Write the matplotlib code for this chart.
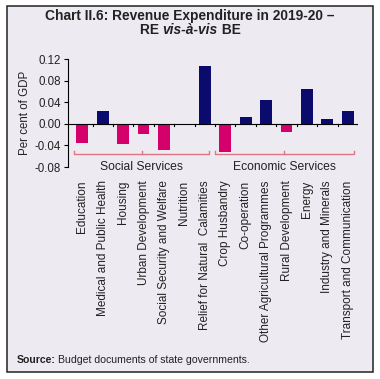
import matplotlib.pyplot as plt
from matplotlib.patches import Rectangle

plt.rcParams['font.family'] = ['Liberation Sans', 'DejaVu Sans']

categorias = ['Education', 'Medical and Public Health', 'Housing', 'Urban Development',
              'Social Security and Welfare', 'Nutrition', 'Relief for Natural  Calamities',
              'Crop Husbandry', 'Co-operation', 'Other Agricultural Programmes',
              'Rural Development', 'Energy', 'Industry and Minerals',
              'Transport and Communication']
valores = [-0.035, 0.024, -0.038, -0.018, -0.049, 0.0, 0.107,
           -0.053, 0.012, 0.044, -0.015, 0.064, 0.008, 0.023]
yticks = [0.12, 0.08, 0.04, 0.00, -0.04, -0.08]
grupos = ['Social Services', 'Economic Services']

azul = '#0b0b6e'
rosa = '#d4006b'
fondo = '#edeaf1'
linea_grupo = '#e07583'

fig = plt.figure(figsize=(3.8, 3.79), dpi=100)
# marco exterior
fig.patches.append(Rectangle((7 / 380, 1 - 372 / 379), 366 / 380, 366 / 379,
                             transform=fig.transFigure, facecolor=fondo,
                             edgecolor='#222222', linewidth=1.1, zorder=-5))

ax = fig.add_axes([68 / 380, 1 - 167 / 379, 290 / 380, 108 / 379])
ax.set_facecolor('none')
ax.set_zorder(2)

x = list(range(len(categorias)))
colores = [azul if v >= 0 else rosa for v in valores]
ax.bar(x, valores, width=0.58, color=colores, zorder=2)

ax.set_ylim(-0.08, 0.12)
ax.set_xlim(-0.7, 13.5)
ax.set_yticks(yticks)
ax.set_yticklabels(['%.2f' % t for t in yticks], fontsize=8.3, color='#222222')
ax.tick_params(axis='y', length=3, width=0.8, pad=2)
ax.set_ylabel('Per cent of GDP', fontsize=8.3, color='#222222', labelpad=3)

for s in ['top', 'right', 'bottom']:
    ax.spines[s].set_visible(False)
ax.spines['left'].set_linewidth(0.8)

# eje x en cero con marcas entre barras
ax.axhline(0, color='black', linewidth=0.8, zorder=3)
ax.set_xticks([])
for i in range(len(categorias)):
    ax.plot([i + 0.5, i + 0.5], [0, -0.004], color='black', lw=0.8, zorder=3)

# etiquetas de categorias
for i, c in enumerate(categorias):
    ax.text(i, -0.105, c, rotation=90, ha='center', va='top', fontsize=8.5,
            color='#222222', clip_on=False)

# llaves de grupos
def llave(x0, x1, xc, texto):
    y = -0.056
    ax.plot([x0, x0, x1, x1], [y + 0.005, y, y, y + 0.005], color=linea_grupo,
            lw=1.0, clip_on=False)
    ax.plot([xc, xc], [y, y + 0.005], color=linea_grupo, lw=1.0, clip_on=False)
    ax.text(xc, -0.08, texto, ha='center', va='center', fontsize=8.7,
            color='#222222', clip_on=False)

llave(-0.42, 6.2, 2.9, grupos[0])
llave(6.5, 13.3, 9.9, grupos[1])

# titulo
fig.text(0.5, 1 - 16 / 379, 'Chart II.6: Revenue Expenditure in 2019-20 –',
         ha='center', va='center', fontsize=9.9, fontweight='bold', color='#222222')
fig.canvas.draw()
r = fig.canvas.get_renderer()
partes = [('RE ', 'normal'), ('vis-à-vis', 'italic'), (' BE', 'normal')]
objs = [fig.text(0, 1 - 30.5 / 379, p, ha='left', va='center', fontsize=9.9,
                 fontweight='bold', style=st, color='#222222') for p, st in partes]
anchos = [o.get_window_extent(r).width / fig.bbox.width for o in objs]
xi = 0.5 - sum(anchos) / 2
for o, w in zip(objs, anchos):
    o.set_x(xi)
    xi += w

# fuente
t1 = fig.text(17 / 380, 1 - 360 / 379, 'Source:', fontsize=7.6, fontweight='bold',
              va='center', ha='left', color='#222222')
w1 = t1.get_window_extent(r).width / fig.bbox.width
fig.text(17 / 380 + w1 + 2 / 380, 1 - 360 / 379, 'Budget documents of state governments.',
         fontsize=7.6, va='center', ha='left', color='#222222')

fig.savefig('out.png', dpi=100)
